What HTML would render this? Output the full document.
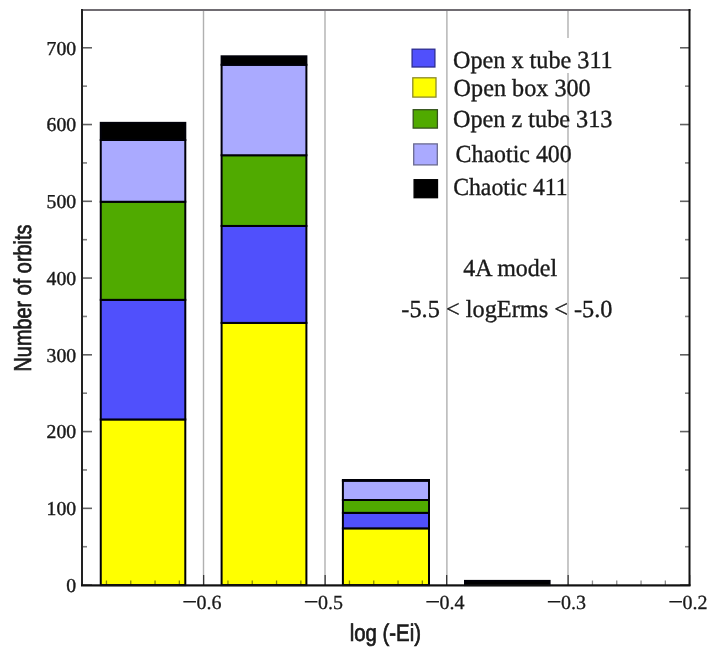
<!DOCTYPE html>
<html><head><meta charset="utf-8"><title>Orbit histogram</title>
<style>html,body{margin:0;padding:0;background:#fff;width:715px;height:657px;overflow:hidden}svg{display:block;will-change:transform}</style>
</head><body>
<svg width="715" height="657" viewBox="0 0 715 657" text-rendering="geometricPrecision">
<rect x="0" y="0" width="715" height="657" fill="#ffffff"/>
<line x1="203.50" y1="10" x2="203.50" y2="585" stroke="#b0b0b0" stroke-width="1.4"/>
<line x1="325.00" y1="10" x2="325.00" y2="585" stroke="#b0b0b0" stroke-width="1.4"/>
<line x1="446.90" y1="10" x2="446.90" y2="585" stroke="#b0b0b0" stroke-width="1.4"/>
<line x1="568.00" y1="10" x2="568.00" y2="585" stroke="#b0b0b0" stroke-width="1.4"/>
<rect x="100.75" y="419.45" width="84.55" height="165.65" fill="#ffff00" stroke="#000008" stroke-width="2"/>
<rect x="100.75" y="299.85" width="84.55" height="119.60" fill="#5050fc" stroke="#000008" stroke-width="2"/>
<rect x="100.75" y="201.75" width="84.55" height="98.10" fill="#50aa00" stroke="#000008" stroke-width="2"/>
<rect x="100.75" y="140.00" width="84.55" height="61.75" fill="#aaaaff" stroke="#000008" stroke-width="2"/>
<rect x="100.75" y="122.85" width="84.55" height="17.15" fill="#000000" stroke="#000008" stroke-width="2"/>
<rect x="221.60" y="322.90" width="84.80" height="262.20" fill="#ffff00" stroke="#000008" stroke-width="2"/>
<rect x="221.60" y="225.95" width="84.80" height="96.95" fill="#5050fc" stroke="#000008" stroke-width="2"/>
<rect x="221.60" y="155.25" width="84.80" height="70.70" fill="#50aa00" stroke="#000008" stroke-width="2"/>
<rect x="221.60" y="64.80" width="84.80" height="90.45" fill="#aaaaff" stroke="#000008" stroke-width="2"/>
<rect x="221.60" y="56.30" width="84.80" height="8.50" fill="#000000" stroke="#000008" stroke-width="2"/>
<rect x="342.90" y="528.35" width="86.10" height="56.75" fill="#ffff00" stroke="#000008" stroke-width="2"/>
<rect x="342.90" y="512.85" width="86.10" height="15.50" fill="#5050fc" stroke="#000008" stroke-width="2"/>
<rect x="342.90" y="500.00" width="86.10" height="12.85" fill="#50aa00" stroke="#000008" stroke-width="2"/>
<rect x="342.90" y="480.70" width="86.10" height="19.30" fill="#aaaaff" stroke="#000008" stroke-width="2"/>
<rect x="342.90" y="480.00" width="86.10" height="0.70" fill="#000000" stroke="#000008" stroke-width="2"/>
<rect x="465.00" y="580.90" width="84.60" height="4.20" fill="#000000" stroke="#000008" stroke-width="2"/>
<line x1="82" y1="585.10" x2="92" y2="585.10" stroke="#000" stroke-opacity="0.62" stroke-width="1.6"/>
<line x1="680" y1="585.10" x2="690" y2="585.10" stroke="#000" stroke-opacity="0.62" stroke-width="1.6"/>
<line x1="82" y1="546.72" x2="87" y2="546.72" stroke="#000" stroke-opacity="0.5" stroke-width="1.6"/>
<line x1="685" y1="546.72" x2="690" y2="546.72" stroke="#000" stroke-opacity="0.5" stroke-width="1.6"/>
<line x1="82" y1="508.34" x2="92" y2="508.34" stroke="#000" stroke-opacity="0.62" stroke-width="1.6"/>
<line x1="680" y1="508.34" x2="690" y2="508.34" stroke="#000" stroke-opacity="0.62" stroke-width="1.6"/>
<line x1="82" y1="469.96" x2="87" y2="469.96" stroke="#000" stroke-opacity="0.5" stroke-width="1.6"/>
<line x1="685" y1="469.96" x2="690" y2="469.96" stroke="#000" stroke-opacity="0.5" stroke-width="1.6"/>
<line x1="82" y1="431.58" x2="92" y2="431.58" stroke="#000" stroke-opacity="0.62" stroke-width="1.6"/>
<line x1="680" y1="431.58" x2="690" y2="431.58" stroke="#000" stroke-opacity="0.62" stroke-width="1.6"/>
<line x1="82" y1="393.20" x2="87" y2="393.20" stroke="#000" stroke-opacity="0.5" stroke-width="1.6"/>
<line x1="685" y1="393.20" x2="690" y2="393.20" stroke="#000" stroke-opacity="0.5" stroke-width="1.6"/>
<line x1="82" y1="354.82" x2="92" y2="354.82" stroke="#000" stroke-opacity="0.62" stroke-width="1.6"/>
<line x1="680" y1="354.82" x2="690" y2="354.82" stroke="#000" stroke-opacity="0.62" stroke-width="1.6"/>
<line x1="82" y1="316.44" x2="87" y2="316.44" stroke="#000" stroke-opacity="0.5" stroke-width="1.6"/>
<line x1="685" y1="316.44" x2="690" y2="316.44" stroke="#000" stroke-opacity="0.5" stroke-width="1.6"/>
<line x1="82" y1="278.06" x2="92" y2="278.06" stroke="#000" stroke-opacity="0.62" stroke-width="1.6"/>
<line x1="680" y1="278.06" x2="690" y2="278.06" stroke="#000" stroke-opacity="0.62" stroke-width="1.6"/>
<line x1="82" y1="239.68" x2="87" y2="239.68" stroke="#000" stroke-opacity="0.5" stroke-width="1.6"/>
<line x1="685" y1="239.68" x2="690" y2="239.68" stroke="#000" stroke-opacity="0.5" stroke-width="1.6"/>
<line x1="82" y1="201.30" x2="92" y2="201.30" stroke="#000" stroke-opacity="0.62" stroke-width="1.6"/>
<line x1="680" y1="201.30" x2="690" y2="201.30" stroke="#000" stroke-opacity="0.62" stroke-width="1.6"/>
<line x1="82" y1="162.92" x2="87" y2="162.92" stroke="#000" stroke-opacity="0.5" stroke-width="1.6"/>
<line x1="685" y1="162.92" x2="690" y2="162.92" stroke="#000" stroke-opacity="0.5" stroke-width="1.6"/>
<line x1="82" y1="124.54" x2="92" y2="124.54" stroke="#000" stroke-opacity="0.62" stroke-width="1.6"/>
<line x1="680" y1="124.54" x2="690" y2="124.54" stroke="#000" stroke-opacity="0.62" stroke-width="1.6"/>
<line x1="82" y1="86.16" x2="87" y2="86.16" stroke="#000" stroke-opacity="0.5" stroke-width="1.6"/>
<line x1="685" y1="86.16" x2="690" y2="86.16" stroke="#000" stroke-opacity="0.5" stroke-width="1.6"/>
<line x1="82" y1="47.78" x2="92" y2="47.78" stroke="#000" stroke-opacity="0.62" stroke-width="1.6"/>
<line x1="680" y1="47.78" x2="690" y2="47.78" stroke="#000" stroke-opacity="0.62" stroke-width="1.6"/>
<line x1="82.15" y1="585" x2="82.15" y2="575" stroke="#000" stroke-opacity="0.7" stroke-width="1.3"/>
<line x1="106.45" y1="585" x2="106.45" y2="580.5" stroke="#000" stroke-opacity="0.45" stroke-width="1.3"/>
<line x1="130.75" y1="585" x2="130.75" y2="580.5" stroke="#000" stroke-opacity="0.45" stroke-width="1.3"/>
<line x1="155.05" y1="585" x2="155.05" y2="580.5" stroke="#000" stroke-opacity="0.45" stroke-width="1.3"/>
<line x1="179.35" y1="585" x2="179.35" y2="580.5" stroke="#000" stroke-opacity="0.45" stroke-width="1.3"/>
<line x1="203.65" y1="585" x2="203.65" y2="575" stroke="#000" stroke-opacity="0.7" stroke-width="1.3"/>
<line x1="227.95" y1="585" x2="227.95" y2="580.5" stroke="#000" stroke-opacity="0.45" stroke-width="1.3"/>
<line x1="252.25" y1="585" x2="252.25" y2="580.5" stroke="#000" stroke-opacity="0.45" stroke-width="1.3"/>
<line x1="276.55" y1="585" x2="276.55" y2="580.5" stroke="#000" stroke-opacity="0.45" stroke-width="1.3"/>
<line x1="300.85" y1="585" x2="300.85" y2="580.5" stroke="#000" stroke-opacity="0.45" stroke-width="1.3"/>
<line x1="325.15" y1="585" x2="325.15" y2="575" stroke="#000" stroke-opacity="0.7" stroke-width="1.3"/>
<line x1="349.45" y1="585" x2="349.45" y2="580.5" stroke="#000" stroke-opacity="0.45" stroke-width="1.3"/>
<line x1="373.75" y1="585" x2="373.75" y2="580.5" stroke="#000" stroke-opacity="0.45" stroke-width="1.3"/>
<line x1="398.05" y1="585" x2="398.05" y2="580.5" stroke="#000" stroke-opacity="0.45" stroke-width="1.3"/>
<line x1="422.35" y1="585" x2="422.35" y2="580.5" stroke="#000" stroke-opacity="0.45" stroke-width="1.3"/>
<line x1="446.65" y1="585" x2="446.65" y2="575" stroke="#000" stroke-opacity="0.7" stroke-width="1.3"/>
<line x1="470.95" y1="585" x2="470.95" y2="580.5" stroke="#000" stroke-opacity="0.45" stroke-width="1.3"/>
<line x1="495.25" y1="585" x2="495.25" y2="580.5" stroke="#000" stroke-opacity="0.45" stroke-width="1.3"/>
<line x1="519.55" y1="585" x2="519.55" y2="580.5" stroke="#000" stroke-opacity="0.45" stroke-width="1.3"/>
<line x1="543.85" y1="585" x2="543.85" y2="580.5" stroke="#000" stroke-opacity="0.45" stroke-width="1.3"/>
<line x1="568.15" y1="585" x2="568.15" y2="575" stroke="#000" stroke-opacity="0.7" stroke-width="1.3"/>
<line x1="592.45" y1="585" x2="592.45" y2="580.5" stroke="#000" stroke-opacity="0.45" stroke-width="1.3"/>
<line x1="616.75" y1="585" x2="616.75" y2="580.5" stroke="#000" stroke-opacity="0.45" stroke-width="1.3"/>
<line x1="641.05" y1="585" x2="641.05" y2="580.5" stroke="#000" stroke-opacity="0.45" stroke-width="1.3"/>
<line x1="665.35" y1="585" x2="665.35" y2="580.5" stroke="#000" stroke-opacity="0.45" stroke-width="1.3"/>
<line x1="689.65" y1="585" x2="689.65" y2="575" stroke="#000" stroke-opacity="0.7" stroke-width="1.3"/>
<rect x="81" y="9" width="609.5" height="2" fill="#706c72"/>
<rect x="81" y="9" width="2" height="577" fill="#222222"/>
<rect x="688.5" y="9" width="2" height="577" fill="#111111"/>
<rect x="81" y="584.3" width="609.5" height="2.2" fill="#111111"/>
<text x="76.1" y="592.00" text-anchor="end" font-family="'Liberation Serif', 'Times New Roman', serif" font-size="19.7" fill="#1a1a1a" stroke="#1a1a1a" stroke-width="0.4">0</text>
<text x="76.1" y="515.24" text-anchor="end" font-family="'Liberation Serif', 'Times New Roman', serif" font-size="19.7" fill="#1a1a1a" stroke="#1a1a1a" stroke-width="0.4">100</text>
<text x="76.1" y="438.48" text-anchor="end" font-family="'Liberation Serif', 'Times New Roman', serif" font-size="19.7" fill="#1a1a1a" stroke="#1a1a1a" stroke-width="0.4">200</text>
<text x="76.1" y="361.72" text-anchor="end" font-family="'Liberation Serif', 'Times New Roman', serif" font-size="19.7" fill="#1a1a1a" stroke="#1a1a1a" stroke-width="0.4">300</text>
<text x="76.1" y="284.96" text-anchor="end" font-family="'Liberation Serif', 'Times New Roman', serif" font-size="19.7" fill="#1a1a1a" stroke="#1a1a1a" stroke-width="0.4">400</text>
<text x="76.1" y="208.20" text-anchor="end" font-family="'Liberation Serif', 'Times New Roman', serif" font-size="19.7" fill="#1a1a1a" stroke="#1a1a1a" stroke-width="0.4">500</text>
<text x="76.1" y="131.44" text-anchor="end" font-family="'Liberation Serif', 'Times New Roman', serif" font-size="19.7" fill="#1a1a1a" stroke="#1a1a1a" stroke-width="0.4">600</text>
<text x="76.1" y="54.68" text-anchor="end" font-family="'Liberation Serif', 'Times New Roman', serif" font-size="19.7" fill="#1a1a1a" stroke="#1a1a1a" stroke-width="0.4">700</text>
<rect x="183.35" y="601.0" width="12.6" height="1.5" fill="#1a1a1a"/>
<text x="221.45" y="609" text-anchor="end" font-family="'Liberation Serif', 'Times New Roman', serif" font-size="20" fill="#1a1a1a" stroke="#1a1a1a" stroke-width="0.3">0.6</text>
<rect x="304.85" y="601.0" width="12.6" height="1.5" fill="#1a1a1a"/>
<text x="342.95" y="609" text-anchor="end" font-family="'Liberation Serif', 'Times New Roman', serif" font-size="20" fill="#1a1a1a" stroke="#1a1a1a" stroke-width="0.3">0.5</text>
<rect x="426.35" y="601.0" width="12.6" height="1.5" fill="#1a1a1a"/>
<text x="464.45" y="609" text-anchor="end" font-family="'Liberation Serif', 'Times New Roman', serif" font-size="20" fill="#1a1a1a" stroke="#1a1a1a" stroke-width="0.3">0.4</text>
<rect x="547.85" y="601.0" width="12.6" height="1.5" fill="#1a1a1a"/>
<text x="585.95" y="609" text-anchor="end" font-family="'Liberation Serif', 'Times New Roman', serif" font-size="20" fill="#1a1a1a" stroke="#1a1a1a" stroke-width="0.3">0.3</text>
<rect x="669.35" y="601.0" width="12.6" height="1.5" fill="#1a1a1a"/>
<text x="707.45" y="609" text-anchor="end" font-family="'Liberation Serif', 'Times New Roman', serif" font-size="20" fill="#1a1a1a" stroke="#1a1a1a" stroke-width="0.3">0.2</text>
<rect x="449" y="38" width="170" height="35" fill="#fff"/>
<rect x="412.10" y="49.20" width="22.80" height="17.80" fill="#5050fc" stroke="#2c2c90" stroke-width="1.3"/>
<text transform="translate(452.92 67.6) scale(0.9882 1)" font-family="'Liberation Serif', 'Times New Roman', serif" font-size="24.5" fill="#1a1a1a" stroke="#1a1a1a" stroke-width="0.35">Open x tube 311</text>
<rect x="412.80" y="77.80" width="23.20" height="19.30" fill="#ffff00" stroke="#8c8a28" stroke-width="1.3"/>
<text transform="translate(453.62 95.5) scale(0.9873 1)" font-family="'Liberation Serif', 'Times New Roman', serif" font-size="24.5" fill="#1a1a1a" stroke="#1a1a1a" stroke-width="0.35">Open box 300</text>
<rect x="413.20" y="109.70" width="24.20" height="18.40" fill="#50aa00" stroke="#34521c" stroke-width="1.3"/>
<text transform="translate(452.92 127.4) scale(0.9892 1)" font-family="'Liberation Serif', 'Times New Roman', serif" font-size="24.5" fill="#1a1a1a" stroke="#1a1a1a" stroke-width="0.35">Open z tube 313</text>
<rect x="413.70" y="143.90" width="23.60" height="21.00" fill="#aaaaff" stroke="#6a6a90" stroke-width="1.3"/>
<text transform="translate(455.54 161.5) scale(0.9759 1)" font-family="'Liberation Serif', 'Times New Roman', serif" font-size="24.5" fill="#1a1a1a" stroke="#1a1a1a" stroke-width="0.35">Chaotic 400</text>
<rect x="414.10" y="179.70" width="23.40" height="18.00" fill="#000000" stroke="#000000" stroke-width="1.3"/>
<text transform="translate(453.15 194.5) scale(0.9694 1)" font-family="'Liberation Serif', 'Times New Roman', serif" font-size="24.5" fill="#1a1a1a" stroke="#1a1a1a" stroke-width="0.35">Chaotic 411</text>
<text transform="translate(463.18 276.2) scale(0.9787 1)" font-family="'Liberation Serif', 'Times New Roman', serif" font-size="24.5" fill="#1a1a1a" stroke="#1a1a1a" stroke-width="0.35">4A model</text>
<text transform="translate(401.34 317.0) scale(0.9926 1)" font-family="'Liberation Serif', 'Times New Roman', serif" font-size="24.5" fill="#1a1a1a" stroke="#1a1a1a" stroke-width="0.35">-5.5 &lt; logErms &lt; -5.0</text>
<text transform="translate(31.4 371.5) rotate(-90) scale(0.815 1)" x="0" y="0" font-family="'Liberation Sans', Arial, sans-serif" font-size="24.4" fill="#1a1a1a" stroke="#1a1a1a" stroke-width="0.7">Number of orbits</text>
<text transform="translate(349.7 641.3) scale(0.849 1)" x="0" y="0" font-family="'Liberation Sans', Arial, sans-serif" font-size="24" fill="#1a1a1a" stroke="#1a1a1a" stroke-width="0.7">log (-Ei)</text>
</svg>
</body></html>
